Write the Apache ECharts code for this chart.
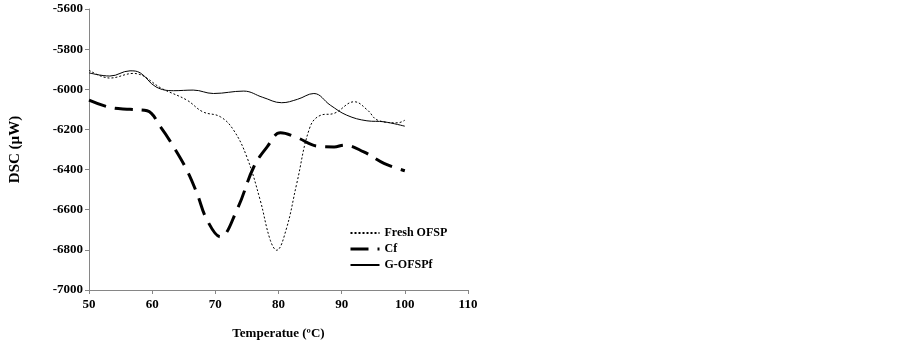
<!DOCTYPE html>
<html>
<head>
<meta charset="utf-8">
<script src="https://cdn.jsdelivr.net/npm/echarts@6/dist/echarts.min.js"></script>
<style>
	html, body { margin: 0; padding: 0; background: #fff; }
	#main { width: 902px; height: 342px; }
</style>
</head>
<body>
<div id="main"></div>
<script>
// values: [temperature, DSC]
const freshOFSP = [
	[50, -5905], [53.3, -5944], [57, -5921], [61.7, -5999], [65.5, -6054], [68, -6112],
	[70.8, -6137], [72.9, -6204], [75, -6338], [77.1, -6552], [78.7, -6752], [79.7, -6802],
	[81.2, -6700], [82.9, -6468], [85, -6187], [86.7, -6129], [88.8, -6120], [92, -6062],
	[94.1, -6104], [95.7, -6154], [98.9, -6167], [100, -6154]
]
const cf = [
	[50, -6054], [53.3, -6090], [56.5, -6100], [59.2, -6107], [61.3, -6187], [63.4, -6287],
	[65.5, -6403], [67.1, -6519], [68.7, -6652], [70.8, -6735], [73.4, -6602], [76.1, -6386],
	[78.2, -6287], [80.3, -6217], [82.9, -6240], [86.1, -6283], [88.8, -6287], [90.4, -6278],
	[93.5, -6312], [96.7, -6369], [100, -6406]
]
const gOFSPf = [
	[50, -5918], [53.3, -5934], [56.5, -5908], [58.1, -5918], [60.6, -5988], [63.4, -6007],
	[66.5, -6004], [69.7, -6021], [74.5, -6009], [77.5, -6040], [80.5, -6067], [83, -6050],
	[85.6, -6021], [88.2, -6079], [90.8, -6129], [94, -6157], [96.7, -6162], [100, -6184]
]
const seriesNames = ["Fresh OFSP", "Cf", "G-OFSPf"]

const font = "Liberation Serif"
const chart = echarts.init(document.getElementById("main"))
const option = {
	animation: false,
	grid: { left: 89, right: 434, top: 9, bottom: 52, containLabel: false, outerBoundsMode: "none" },
	legend: {
		data: [
			{ name: seriesNames[0] },
			{ name: seriesNames[1], lineStyle: { width: 3 } },
			{ name: seriesNames[2] }
		],
		orient: "vertical",
		left: 344,
		top: 222,
		itemWidth: 29,
		itemHeight: 12,
		itemGap: 4,
		itemStyle: { opacity: 0 },
		textStyle: { fontFamily: font, fontWeight: "bold", fontSize: 12, color: "#000" }
	},
	xAxis: {
		type: "value",
		min: 50,
		max: 110,
		interval: 10,
		name: "Temperatue (ºC)",
		nameLocation: "middle",
		nameGap: 37,
		nameTextStyle: { fontFamily: font, fontWeight: "bold", fontSize: 13, color: "#000" },
		axisLine: { lineStyle: { color: "#868686" } },
		axisTick: { show: true, length: 4, lineStyle: { color: "#868686" } },
		axisLabel: { fontFamily: font, fontWeight: "bold", fontSize: 13, color: "#000", margin: 8 },
		splitLine: { show: false }
	},
	yAxis: {
		type: "value",
		min: -7000,
		max: -5600,
		interval: 200,
		name: "DSC (µW)",
		nameLocation: "middle",
		nameGap: 66,
		nameTextStyle: { fontFamily: font, fontWeight: "bold", fontSize: 15, color: "#000" },
		axisLine: { show: true, lineStyle: { color: "#868686" } },
		axisTick: { show: true, length: 4, lineStyle: { color: "#868686" } },
		axisLabel: { fontFamily: font, fontWeight: "bold", fontSize: 13, color: "#000", margin: 6,
			formatter: (v) => String(v) },
		splitLine: { show: false }
	},
	series: [
		{
			name: seriesNames[0], type: "line", data: freshOFSP, smooth: 0.4, symbol: "none",
			lineStyle: { color: "#000", width: 1, type: [2, 2] }, itemStyle: { color: "#000" }
		},
		{
			name: seriesNames[1], type: "line", data: cf, smooth: 0.4, symbol: "none",
			lineStyle: { color: "#000", width: 3, type: [18, 9] }, itemStyle: { color: "#000" }
		},
		{
			name: seriesNames[2], type: "line", data: gOFSPf, smooth: 0.4, symbol: "none",
			lineStyle: { color: "#000", width: 1 }, itemStyle: { color: "#000" }
		}
	]
}
chart.setOption(option)
</script>
</body>
</html>
